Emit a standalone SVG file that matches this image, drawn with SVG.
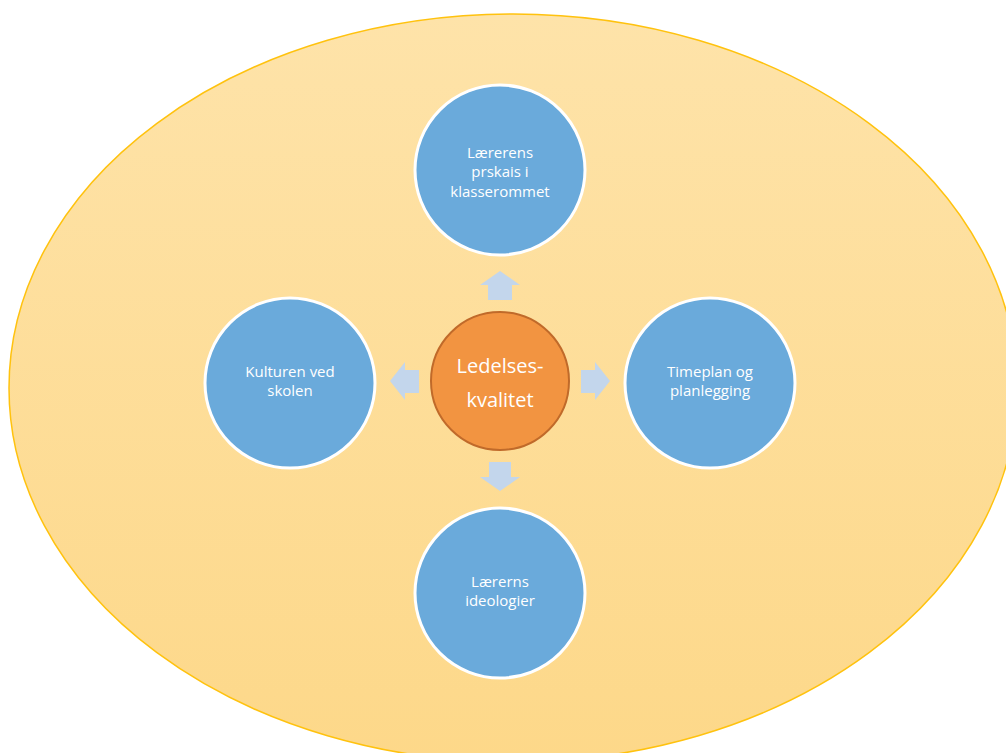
<svg xmlns="http://www.w3.org/2000/svg" width="1006" height="753" viewBox="0 0 1006 753">
  <defs>
    <linearGradient id="bgFill" x1="0" y1="0" x2="0" y2="1">
      <stop offset="0" stop-color="#FEE3A9"/>
      <stop offset="1" stop-color="#FDD889"/>
    </linearGradient>
  </defs>
  <style>
    .topic { fill: #6AAADB; stroke: #FFFFFF; stroke-width: 3; }
    .topic-label { fill: #FFFFFF; font-family: "Open Sans", "Liberation Sans", sans-serif; font-size: 15px; text-anchor: middle; }
    .core { fill: #F29441; stroke: #C06A2A; stroke-width: 2; }
    .core-label { fill: #FFFFFF; font-family: "Open Sans", "Liberation Sans", sans-serif; font-size: 20px; text-anchor: middle; }
    .arrow { fill: #C3D6EC; }
  </style>

  <rect width="1006" height="753" fill="#FFFFFF"/>

  <!-- background ellipse -->
  <g id="background">
    <ellipse cx="513" cy="388" rx="504" ry="374" fill="url(#bgFill)" stroke="#FFC20E" stroke-width="1.5"/>
  </g>

  <!-- block arrows from the centre outwards -->
  <g id="connectors">
    <polygon class="arrow" points="500,271 520,285 512,285 512,300 488,300 488,285 480,285"/>
    <polygon class="arrow" points="610,381 595,362 595,370 581,370 581,393 595,393 595,400"/>
    <polygon class="arrow" points="500,491 520,477 511,477 511,462 489,462 489,477 480,477"/>
    <polygon class="arrow" points="390,381 405,362 405,370 419,370 419,393 405,393 405,400"/>
  </g>

  <g id="node-center">
    <circle class="core" cx="500" cy="381" r="69"/>
    <text class="core-label" x="500" y="373">Ledelses-</text>
    <text class="core-label" x="500" y="407">kvalitet</text>
  </g>

  <g id="node-top">
    <circle class="topic" cx="500" cy="170" r="85"/>
    <text class="topic-label" x="500" y="158">Lærerens</text>
    <text class="topic-label" x="500" y="177">prskais i</text>
    <text class="topic-label" x="500" y="197">klasserommet</text>
  </g>

  <g id="node-right">
    <circle class="topic" cx="710" cy="383" r="85"/>
    <text class="topic-label" x="710" y="377">Timeplan og</text>
    <text class="topic-label" x="710" y="396">planlegging</text>
  </g>

  <g id="node-bottom">
    <circle class="topic" cx="500" cy="593" r="85"/>
    <text class="topic-label" x="500" y="587">Lærerns</text>
    <text class="topic-label" x="500" y="606">ideologier</text>
  </g>

  <g id="node-left">
    <circle class="topic" cx="290" cy="383" r="85"/>
    <text class="topic-label" x="290" y="377">Kulturen ved</text>
    <text class="topic-label" x="290" y="396">skolen</text>
  </g>
</svg>
